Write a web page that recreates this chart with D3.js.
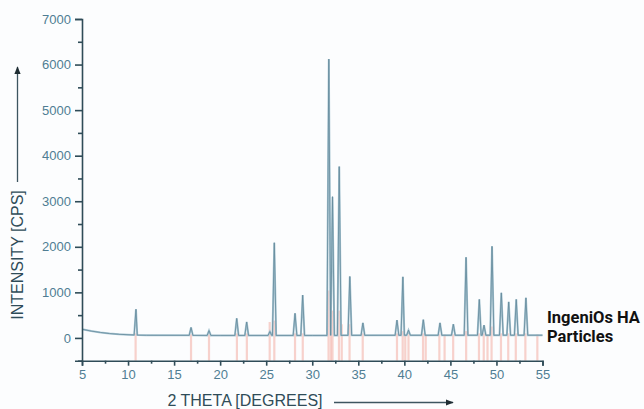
<!DOCTYPE html>
<html>
<head>
<meta charset="utf-8">
<script src="https://cdn.jsdelivr.net/npm/d3@7"></script>
<style>
  body { margin: 0; background: #fcfdfe; }
  svg { display: block; }
</style>
</head>
<body>
<div id="chart"></div>
<script>
// baseline of the measured pattern (2 theta, cps)
const baseTheta = [5, 6, 7, 8, 9, 10, 11, 12, 20, 30, 40, 55];
const baseCps   = [190, 150, 120, 95, 80, 70, 62, 58, 55, 55, 58, 60];

// measured peaks: position and top (cps)
const peakTheta = [10.86, 16.84, 18.79, 21.80, 22.88, 25.40, 25.88, 28.13, 28.96, 31.80, 32.20, 32.93,
                   34.08, 35.50, 39.20, 39.84, 40.45, 42.06, 43.87, 45.32, 46.70, 48.14, 48.65,
                   49.52, 50.53, 51.33, 52.15, 53.20];
const peakTop   = [630, 230, 160, 430, 350, 140, 2090, 540, 940, 6120, 3100, 3760,
                   1350, 330, 390, 1340, 170, 400, 330, 300, 1770, 845, 280,
                   2010, 990, 790, 845, 880];

// reference pattern lines (pink sticks)
const refTheta = [10.82, 16.84, 18.79, 21.82, 22.90, 25.38, 25.88, 28.13, 28.97, 31.77, 32.02, 32.20,
                  32.90, 33.20, 34.05, 35.48, 39.20, 39.82, 40.10, 40.45, 42.03, 42.32, 43.80, 44.37,
                  45.30, 46.71, 48.10, 48.62, 49.03, 49.47, 50.49, 51.28, 52.10, 53.14, 54.44];
const refTop   = [100, 80, 80, 100, 100, 350, 380, 100, 100, 1040, 700, 600,
                  600, 300, 300, 100, 100, 150, 80, 80, 100, 80, 80, 80,
                  80, 150, 100, 100, 80, 250, 100, 100, 100, 100, 80];

const xTicks = [5, 10, 15, 20, 25, 30, 35, 40, 45, 50, 55];
const yTicks = [0, 1000, 2000, 3000, 4000, 5000, 6000, 7000];

const width = 644, height = 409;
const svg = d3.select('#chart').append('svg')
  .attr('width', width)
  .attr('height', height);

const x = d3.scaleLinear().domain([5, 55]).range([82, 542.5]);
const y = d3.scaleLinear().domain([-500, 7000]).range([360.7, 19]);

const labelColor = '#4f7d93';
const axisColor = '#2f4c58';

// reference sticks
svg.append('g')
  .selectAll('line')
  .data(refTheta)
  .join('line')
  .attr('x1', d => x(d))
  .attr('x2', d => x(d))
  .attr('y1', y(-500))
  .attr('y2', (d, i) => y(refTop[i]))
  .attr('stroke', '#f3b4aa')
  .attr('stroke-opacity', 0.6)
  .attr('stroke-width', 2.2);

// build trace from baseline + peaks
const base = d3.scaleLinear().domain(baseTheta).range(baseCps);
const halfW = 0.2;
let pts = baseTheta.map((t, i) => [t, baseCps[i]]);
peakTheta.forEach((t, i) => {
  pts.push([t - halfW, base(t - halfW)]);
  pts.push([t, peakTop[i]]);
  pts.push([t + halfW, base(t + halfW)]);
});
pts.sort((a, b) => a[0] - b[0]);

const line = d3.line()
  .x(d => x(d[0]))
  .y(d => y(d[1]));

svg.append('path')
  .datum(pts)
  .attr('fill', 'none')
  .attr('stroke', '#a9c6d3')
  .attr('stroke-width', 2)
  .attr('d', line);

svg.append('path')
  .datum(pts)
  .attr('fill', 'none')
  .attr('stroke', '#63899b')
  .attr('stroke-width', 0.8)
  .attr('d', line);

// axes
svg.append('g')
  .attr('transform', `translate(${x(5)},0)`)
  .call(d3.axisLeft(y).tickValues(yTicks).tickSize(7).tickPadding(4).tickFormat(d3.format('d')));

svg.append('g')
  .attr('transform', `translate(${x(5)},0)`)
  .call(d3.axisLeft(y).tickValues(d3.range(-500, 7000, 1000)).tickSize(4).tickFormat(''))
  .select('.domain').remove();

svg.append('g')
  .attr('transform', `translate(0,${y(-500)})`)
  .call(d3.axisBottom(x).tickValues(xTicks).tickSize(5).tickPadding(4));

svg.append('g')
  .attr('transform', `translate(0,${y(-500)})`)
  .call(d3.axisBottom(x).tickValues(d3.range(7.5, 55, 5)).tickSize(3).tickFormat(''))
  .select('.domain').remove();

svg.selectAll('.domain').attr('stroke', axisColor).attr('stroke-width', 1.6);
svg.selectAll('.tick line').attr('stroke', axisColor).attr('stroke-width', 1.6);
svg.selectAll('.tick text')
  .attr('fill', labelColor)
  .style('font-family', '"Liberation Sans", Arial, sans-serif')
  .style('font-size', '13px');

// axis titles
svg.append('text')
  .attr('transform', 'translate(23,255) rotate(-90)')
  .attr('text-anchor', 'middle')
  .attr('fill', axisColor)
  .style('font-family', '"Liberation Sans", Arial, sans-serif')
  .style('font-size', '16px')
  .text('INTENSITY [CPS]');

svg.append('text')
  .attr('x', 245)
  .attr('y', 406)
  .attr('text-anchor', 'middle')
  .attr('fill', axisColor)
  .style('font-family', '"Liberation Sans", Arial, sans-serif')
  .style('font-size', '16px')
  .text('2 THETA [DEGREES]');

// arrows
svg.append('defs').append('marker')
  .attr('id', 'arrow')
  .attr('viewBox', '0 0 10 10')
  .attr('refX', 9).attr('refY', 5)
  .attr('markerWidth', 8).attr('markerHeight', 6)
  .attr('orient', 'auto')
  .append('path')
  .attr('d', 'M0,1L10,5L0,9Z')
  .attr('fill', '#1f2d33');

svg.append('line')
  .attr('x1', 17.5).attr('y1', 182)
  .attr('x2', 17.5).attr('y2', 67)
  .attr('stroke', '#3d5560')
  .attr('stroke-width', 1.3)
  .attr('marker-end', 'url(#arrow)');

svg.append('line')
  .attr('x1', 334).attr('y1', 402.5)
  .attr('x2', 453).attr('y2', 402.5)
  .attr('stroke', '#3d5560')
  .attr('stroke-width', 1.3)
  .attr('marker-end', 'url(#arrow)');

// series label
const lab = svg.append('text')
  .attr('x', 547)
  .attr('y', 323)
  .attr('fill', '#111')
  .style('font-family', 'Roboto, "Open Sans", sans-serif')
  .style('font-weight', 'bold')
  .style('font-size', '16.5px');
lab.append('tspan').attr('x', 547).text('IngeniOs HA');
lab.append('tspan').attr('x', 547).attr('dy', 19).text('Particles');
</script>
</body>
</html>
